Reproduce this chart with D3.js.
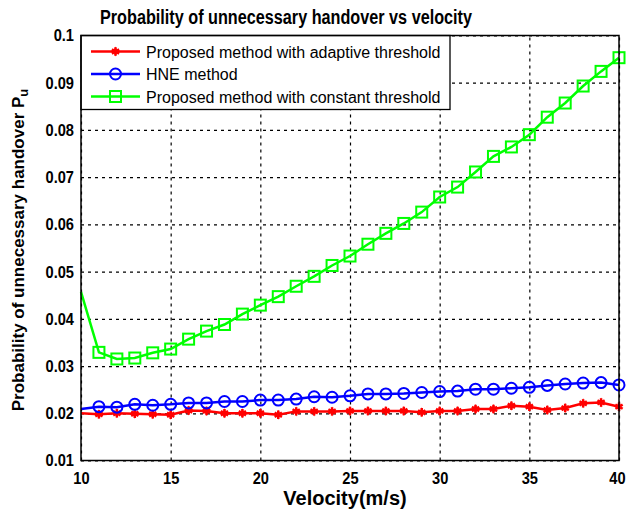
<!DOCTYPE html>
<html>
<head>
<meta charset="utf-8">
<script src="https://cdn.jsdelivr.net/npm/d3@7"></script>
<style>
  body { margin: 0; background: #fff; }
  svg { display: block; font-family: "Liberation Sans", Arial, sans-serif; }
</style>
</head>
<body>
<div id="chart"></div>
<script>
// velocity (m/s)
var velocity = [10, 11, 12, 13, 14, 15, 16, 17, 18, 19, 20, 21, 22, 23, 24, 25,
                26, 27, 28, 29, 30, 31, 32, 33, 34, 35, 36, 37, 38, 39, 40];

var adaptive = [0.0200, 0.0198, 0.0200, 0.0199, 0.0198, 0.0197, 0.0206, 0.0205, 0.0200, 0.0200, 0.0200,
                0.0197, 0.0204, 0.0204, 0.0204, 0.0205, 0.0205, 0.0205, 0.0205, 0.0202, 0.0205,
                0.0205, 0.0209, 0.0209, 0.0216, 0.0214, 0.0207, 0.0211, 0.0221, 0.0223, 0.0214];

var hne = [0.0209, 0.0214, 0.0213, 0.0219, 0.0217, 0.0219, 0.0222, 0.0222, 0.0225, 0.0225, 0.0228,
           0.0228, 0.0230, 0.0235, 0.0234, 0.0237, 0.0241, 0.0241, 0.0242, 0.0244, 0.0246,
           0.0247, 0.0251, 0.0251, 0.0253, 0.0255, 0.0259, 0.0262, 0.0264, 0.0265, 0.0260];

var constant = [0.0457, 0.0329, 0.0315, 0.0317, 0.0328, 0.0336, 0.0357, 0.0374, 0.0388, 0.0410, 0.0429,
                0.0447, 0.0469, 0.0490, 0.0513, 0.0533, 0.0558, 0.0581, 0.0602, 0.0626, 0.0658,
                0.0679, 0.0711, 0.0744, 0.0764, 0.0790, 0.0827, 0.0857, 0.0893, 0.0924, 0.0953];

var xTicks = [10, 15, 20, 25, 30, 35, 40];
var yTicks = [0.01, 0.02, 0.03, 0.04, 0.05, 0.06, 0.07, 0.08, 0.09, 0.1];
var yTickLabels = ["0.01", "0.02", "0.03", "0.04", "0.05", "0.06", "0.07", "0.08", "0.09", "0.1"];

var legendLabels = ["Proposed method with adaptive threshold", "HNE method", "Proposed method with constant threshold"];

var svgWidth = 628;
var svgHeight = 511;

var margin = { top: 35.5, right: 9, bottom: 50.5, left: 81 };
var width = svgWidth - margin.left - margin.right;
var height = svgHeight - margin.top - margin.bottom;

var svg = d3.select("#chart")
    .append("svg")
    .attr("width", svgWidth)
    .attr("height", svgHeight);

var chartGroup = svg.append("g")
    .attr("transform", `translate(${margin.left}, ${margin.top})`);

var xScale = d3.scaleLinear().domain([10, 40]).range([0, width]);
var yScale = d3.scaleLinear().domain([0.01, 0.1]).range([height, 0]);

// grid
var gridX = d3.axisBottom(xScale).tickValues(xTicks).tickSize(-height).tickFormat("");
var gridY = d3.axisLeft(yScale).tickValues(yTicks).tickSize(-width).tickFormat("");

chartGroup.append("g")
    .attr("class", "grid")
    .attr("transform", `translate(0, ${height})`)
    .call(gridX);
chartGroup.append("g")
    .attr("class", "grid")
    .call(gridY);

chartGroup.selectAll(".grid .domain").remove();
chartGroup.selectAll(".grid line")
    .attr("stroke", "#000")
    .attr("stroke-width", 1.2)
    .attr("stroke-dasharray", "3,4");

// axes with tick labels (condensed bold look)
var bottomAxis = d3.axisBottom(xScale).tickValues(xTicks).tickSize(0).tickPadding(11);
var leftAxis = d3.axisLeft(yScale).tickValues(yTicks).tickSize(0).tickPadding(7)
    .tickFormat((d, i) => yTickLabels[i]);

var xAxisG = chartGroup.append("g")
    .attr("transform", `translate(0, ${height})`)
    .call(bottomAxis);
var yAxisG = chartGroup.append("g")
    .call(leftAxis);

[xAxisG, yAxisG].forEach(function (g) {
    g.select(".domain").remove();
    g.selectAll("text")
        .attr("fill", "#000")
        .style("font-size", "17px")
        .style("font-weight", "bold")
        .each(function () {
            var w = this.getComputedTextLength();
            d3.select(this).attr("textLength", w * 0.86).attr("lengthAdjust", "spacingAndGlyphs");
        });
});
// keep the last x label inside the page
xAxisG.selectAll(".tick text").filter(d => d === 40).attr("dx", "-2");

// series
var series = [
    { name: legendLabels[0], values: adaptive, color: "#ff0000", marker: "star" },
    { name: legendLabels[1], values: hne, color: "#0000ff", marker: "circle" },
    { name: legendLabels[2], values: constant, color: "#00ff00", marker: "square" }
];

var line = d3.line()
    .x((d, i) => xScale(velocity[i]))
    .y(d => yScale(d));

function drawMarker(g, type, color) {
    if (type === "circle") {
        g.append("circle").attr("r", 5.5)
            .attr("fill", "none").attr("stroke", color).attr("stroke-width", 2);
    } else if (type === "square") {
        g.append("rect").attr("x", -5.5).attr("y", -5.5).attr("width", 11).attr("height", 11)
            .attr("fill", "none").attr("stroke", color).attr("stroke-width", 2);
    } else {
        g.append("path").attr("d", d3.symbol().type(d3.symbolAsterisk).size(50)())
            .attr("fill", "none").attr("stroke", color).attr("stroke-width", 2.5);
        g.append("path").attr("d", "M0,-5L2,0L0,5L-2,0Z").attr("fill", color);
    }
}

series.forEach(function (s) {
    chartGroup.append("path")
        .datum(s.values)
        .attr("fill", "none")
        .attr("stroke", s.color)
        .attr("stroke-width", 2.5)
        .attr("d", line);

    s.values.forEach(function (v, i) {
        if (i === 0) return;
        var g = chartGroup.append("g")
            .attr("transform", `translate(${xScale(velocity[i])}, ${yScale(v)})`);
        drawMarker(g, s.marker, s.color);
    });
});

// legend
var legend = chartGroup.append("g");
legend.append("rect")
    .attr("x", 0).attr("y", 0)
    .attr("width", 369).attr("height", 74)
    .attr("fill", "#fff")
    .attr("stroke", "#000")
    .attr("stroke-width", 1.3);

series.forEach(function (s, i) {
    var y = 16 + i * 22.5;
    legend.append("line")
        .attr("x1", 10).attr("x2", 59)
        .attr("y1", y).attr("y2", y)
        .attr("stroke", s.color).attr("stroke-width", 2.5);
    var g = legend.append("g").attr("transform", `translate(34.5, ${y})`);
    drawMarker(g, s.marker, s.color);
    legend.append("text")
        .attr("x", 65).attr("y", y + 6)
        .style("font-size", "16px")
        .text(s.name);
});

// axes border
chartGroup.append("rect")
    .attr("x", 0).attr("y", 0)
    .attr("width", width).attr("height", height)
    .attr("fill", "none")
    .attr("stroke", "#000")
    .attr("stroke-width", 1.5);

// title and labels
svg.append("text")
    .attr("x", 286).attr("y", 24)
    .attr("text-anchor", "middle")
    .attr("textLength", 372)
    .attr("lengthAdjust", "spacingAndGlyphs")
    .style("font-size", "20px")
    .style("font-weight", "bold")
    .text("Probability of unnecessary handover vs velocity");

svg.append("text")
    .attr("x", 345).attr("y", 505)
    .attr("text-anchor", "middle")
    .style("font-size", "20px")
    .style("font-weight", "bold")
    .text("Velocity(m/s)");

var yLabel = svg.append("text")
    .attr("transform", "translate(24, 250) rotate(-90)")
    .attr("text-anchor", "middle")
    .style("font-size", "17px")
    .style("font-weight", "bold");
yLabel.append("tspan").text("Probability of unnecessary handover P");
yLabel.append("tspan").attr("dy", 4).style("font-size", "13px").text("u");
</script>
</body>
</html>
